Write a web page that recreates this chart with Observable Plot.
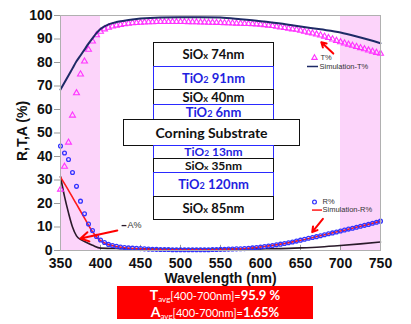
<!DOCTYPE html>
<html><head><meta charset="utf-8">
<script src="https://cdn.jsdelivr.net/npm/d3@7"></script>
<script src="https://cdn.jsdelivr.net/npm/@observablehq/plot@0.6"></script>
<style>
html,body{margin:0;padding:0;background:#fff;}
#wrap{position:relative;width:411px;height:324px;overflow:hidden;font-family:"Liberation Sans",Arial,sans-serif;}
#wrap svg{position:absolute;left:0;top:0;}
#wrap svg g[aria-label="y-axis tick label"], #wrap svg g[aria-label="x-axis tick label"]{font-size:14px;font-weight:bold;fill:#111;}
#stack{position:absolute;left:153px;top:43px;width:121px;font-family:Lato,"Open Sans",sans-serif;font-weight:bold;font-size:13px;}
.row{box-sizing:border-box;border:1.5px solid #111;margin-top:-1px;text-align:center;white-space:nowrap;overflow:visible;background:#fff;display:flex;align-items:center;justify-content:center;}
.row span{display:block;line-height:1;}
.row.ti{border-color:#2a2aff;color:#1f1fe0;}
.row.si{color:#111;}
.row.sub{margin-left:-30px;width:177px;border-color:#111;color:#111;font-size:14px;}
.row.thin{font-size:12px;}
.row small{font-size:70%;}
#avg{position:absolute;left:117px;top:286px;width:196px;height:33px;background:#ff0000;color:#fff;font-family:Lato,"Open Sans",sans-serif;text-align:center;}
#avg div{height:16.5px;line-height:16.5px;white-space:nowrap;}
#avg .big{font-size:14px;font-weight:bold;}
#avg .sb{font-size:8px;vertical-align:-2px;}
#avg .mid{font-size:11px;}
#avg .val{font-size:13px;font-weight:bold;}
</style></head>
<body><div id="wrap"></div>
<script>
// ---------- data ----------
const wavelengths = [350,355,360,365,370,375,380,385,390,395,400,405,410,415,420,425,430,435,440,445,450,455,460,465,470,475,480,485,490,495,500,505,510,515,520,525,530,535,540,545,550,555,560,565,570,575,580,585,590,595,600,605,610,615,620,625,630,635,640,645,650,655,660,665,670,675,680,685,690,695,700,705,710,715,720,725,730,735,740,745,750];
const measuredT = [26,35.7,46,57.5,67,75,80.5,85.5,89,91.7,93.2,94.2,94.9,95.4,95.8,96.1,96.4,96.6,96.8,96.9,97.0,97.1,97.2,97.2,97.3,97.3,97.3,97.3,97.3,97.3,97.3,97.3,97.25,97.2,97.2,97.1,97.1,97.0,97.0,96.95,96.9,96.85,96.8,96.7,96.65,96.6,96.5,96.45,96.4,96.3,96.2,96.0,95.8,95.6,95.3,95.0,94.8,94.5,94.2,94.0,93.6,93.2,92.8,92.4,92.0,91.6,91.1,90.5,89.9,89.3,88.7,88.2,87.7,87.2,86.7,86.2,85.7,85.2,84.7,84.2,83.8];
const measuredR = [44.5,41.5,38.7,33.2,27.3,21,15.6,11.3,8.5,6,4.5,3.4,2.6,2.1,1.8,1.5,1.3,1.1,1.0,0.9,0.8,0.7,0.6,0.55,0.5,0.45,0.4,0.4,0.35,0.35,0.3,0.3,0.3,0.3,0.3,0.3,0.35,0.35,0.4,0.45,0.5,0.55,0.6,0.65,0.7,0.75,0.8,0.95,1.1,1.3,1.5,1.7,1.9,2.1,2.4,2.7,3.0,3.3,3.6,4.0,4.4,4.8,5.2,5.55,5.9,6.3,6.7,7.1,7.5,7.9,8.3,8.7,9.1,9.5,9.9,10.3,10.7,11.1,11.6,12.0,12.5];
const simTx = [350,355,360,365,370,375,380,385,390,395,400,410,420,430,440,450,475,500,525,550,575,600,625,650,675,700,725,750];
const simTy = [68.5,71.5,74.5,77.5,80.5,83,85.5,88,90.3,92.5,94.3,96.2,97.2,97.8,98.3,98.7,99.2,99.3,99.3,99.1,98.4,97.6,96.6,95.3,94.1,92.8,90.6,88.2];
const simRx = [350,360,370,380,390,395,400,405,410,420,430,450,475,500,525,550,575,600,625,650,675,700,725,750];
const simRy = [31.2,25.6,19.7,13.8,8,5.8,4.2,3.2,2.5,1.7,1.2,0.7,0.4,0.3,0.3,0.45,0.75,1.5,2.7,4.4,6.3,8.3,10.3,12.5];
const absX = [350,355,360,365,370,376,380,390,400,425,450,500,550,600,625,650,675,700,725,750];
const absY = [31.5,23,16,10,6.2,4.5,3.8,2.2,1.0,0.8,0.7,0.6,0.6,0.7,0.8,1.1,1.5,2.1,2.8,3.6];
const xTicks = [350,400,450,500,550,600,650,700,750];
const yTicks = [0,10,20,30,40,50,60,70,80,90,100];
const shadeFrom = [350,700];
const shadeTo = [400,750];
const xLabel = "Wavelength (nm)";
const yLabel = "R,T,A (%)";
const layerMaterial = ["SiO","TiO","SiO","TiO","Corning Substrate","TiO","SiO","TiO","SiO"];
const layerIndex = ["x","2","x","2","","2","x","2","x"];
const layerThickness = [74,91,40,6,null,13,35,120,85];
const avgNames = ["T","A"];
const avgRange = "[400-700nm]=";
const avgValues = ["95.9 %","1.65%"];
// annotation anchors (data units)
const arrowFrom = [[691,83.8],[678,13.5],[421,8.5]];
const arrowTo = [[676,88.6],[664.6,7.8],[375,5.1]];

// ---------- tables ----------
const tMeas = wavelengths.map((w,i)=>({w, v: measuredT[i]}));
const rMeas = wavelengths.map((w,i)=>({w, v: measuredR[i]}));
const tSim = simTx.map((w,i)=>({w, v: simTy[i]}));
const rSim = simRx.map((w,i)=>({w, v: simRy[i]}));
const aSim = absX.map((w,i)=>({w, v: absY[i]}));
const bands = shadeFrom.map((a,i)=>({x1:a, x2:shadeTo[i]}));
const arrows = arrowFrom.map((f,i)=>({x1:f[0],y1:f[1],x2:arrowTo[i][0],y2:arrowTo[i][1]}));

const cT = "#ff33ff", cR = "#3333ff", cSimT = "#1e2a66", cSimR = "#ff1a1a", cA = "#2a1a2a";

const plot = Plot.plot({
  width: 411, height: 285,
  marginTop: 15, marginRight: 31, marginBottom: 35, marginLeft: 60,
  style: {background: "transparent", fontFamily: "Liberation Sans, Arial, sans-serif", overflow: "visible"},
  x: {domain: [350, 750]},
  y: {domain: [0, 100]},
  marks: [
    Plot.rect(bands, {x1: "x1", x2: "x2", y1: 0, y2: 100, fill: "#fcd4fa"}),
    Plot.ruleX(xTicks, {y1: 0, y2: 2.2, stroke: "#999", strokeWidth: 1}),
    Plot.axisY({ticks: yTicks, tickSize: 6, tickPadding: 2, label: null, stroke: "#999", fill: "#111"}),
    Plot.axisX({ticks: xTicks, tickSize: 0, tickPadding: 8, label: null, fill: "#111"}),
    Plot.text([xLabel], {frameAnchor: "bottom", lineAnchor: "middle", textAnchor: "middle", dy: 28, fontSize: 14, fontWeight: "bold", fill: "#111"}),
    Plot.text([yLabel], {frameAnchor: "left", lineAnchor: "middle", textAnchor: "middle", dx: -38, dy: -2, rotate: -90, fontSize: 14, fontWeight: "bold", fill: "#111"}),
    Plot.line(aSim, {x: "w", y: "v", stroke: cA, strokeWidth: 1.6, curve: "monotone-x"}),
    Plot.line(rSim, {x: "w", y: "v", stroke: cSimR, strokeWidth: 1.6, curve: "monotone-x"}),
    Plot.dot(rMeas, {x: "w", y: "v", r: 1.9, stroke: cR, strokeWidth: 1.3, fill: "none"}),
    Plot.dot(tMeas, {x: "w", y: "v", r: 2.2, symbol: "triangle", stroke: cT, strokeWidth: 1.1, fill: "none"}),
    Plot.line(tSim, {x: "w", y: "v", stroke: cSimT, strokeWidth: 2, curve: "monotone-x"}),
    Plot.frame({stroke: "#b0b0b0"}),
    // legends
    Plot.dot([{x: 667.5, y: 82}], {x: "x", y: "y", symbol: "triangle", r: 2, stroke: cT, strokeWidth: 1.1}),
    Plot.text([{x: 675, y: 82, t: "T%"}], {x: "x", y: "y", text: "t", textAnchor: "start", fontSize: 7.5, fill: "#333"}),
    Plot.ruleY([{y: 78.3}], {y: "y", x1: 658.75, x2: 672.5, stroke: cSimT, strokeWidth: 1.5}),
    Plot.text([{x: 673.75, y: 78.3, t: "Simulation-T%"}], {x: "x", y: "y", text: "t", textAnchor: "start", fontSize: 7.5, fill: "#333"}),
    Plot.dot([{x: 667.5, y: 20.6}], {x: "x", y: "y", r: 1.9, stroke: cR, strokeWidth: 1.2}),
    Plot.text([{x: 677.5, y: 20.6, t: "R%"}], {x: "x", y: "y", text: "t", textAnchor: "start", fontSize: 7.5, fill: "#333"}),
    Plot.ruleY([{y: 17.2}], {y: "y", x1: 665, x2: 677.5, stroke: cSimR, strokeWidth: 1.5}),
    Plot.text([{x: 677.5, y: 17.2, t: "Simulation-R%"}], {x: "x", y: "y", text: "t", textAnchor: "start", fontSize: 7.5, fill: "#333"}),
    Plot.ruleY([{y: 10.6}], {y: "y", x1: 427, x2: 433, stroke: cA, strokeWidth: 1.3}),
    Plot.text([{x: 433.75, y: 10.6, t: "A%"}], {x: "x", y: "y", text: "t", textAnchor: "start", fontSize: 9, fill: "#333"}),
    Plot.arrow(arrows, {x1: "x1", y1: "y1", x2: "x2", y2: "y2", stroke: "#ff0000", strokeWidth: 2, headLength: 7})
  ]
});

const wrap = document.getElementById("wrap");
wrap.appendChild(plot);

// layer stack inset
const rowHeights = [24,23,15,15,26,13,14,24,23];
const stack = document.createElement("div");
stack.id = "stack";
layerMaterial.forEach((m,i)=>{
  const d = document.createElement("div");
  const isSub = layerThickness[i] == null;
  d.className = "row " + (isSub ? "sub" : (m === "TiO" ? "ti" : "si")) + (rowHeights[i] < 15 ? " thin" : "");
  d.style.height = (rowHeights[i] + 1) + "px";
  const s = document.createElement("span");
  if (isSub) s.textContent = m;
  else s.innerHTML = m + "<small>" + layerIndex[i] + "</small> " + layerThickness[i] + "nm";
  d.appendChild(s);
  stack.appendChild(d);
});
wrap.appendChild(stack);

// averages box
const avg = document.createElement("div");
avg.id = "avg";
avgNames.forEach((n,i)=>{
  const d = document.createElement("div");
  d.innerHTML = '<span class="big">' + n + '</span><span class="sb">avg</span><span class="mid">' + avgRange + '</span><span class="val">' + avgValues[i] + '</span>';
  avg.appendChild(d);
});
wrap.appendChild(avg);
</script>
</body></html>
